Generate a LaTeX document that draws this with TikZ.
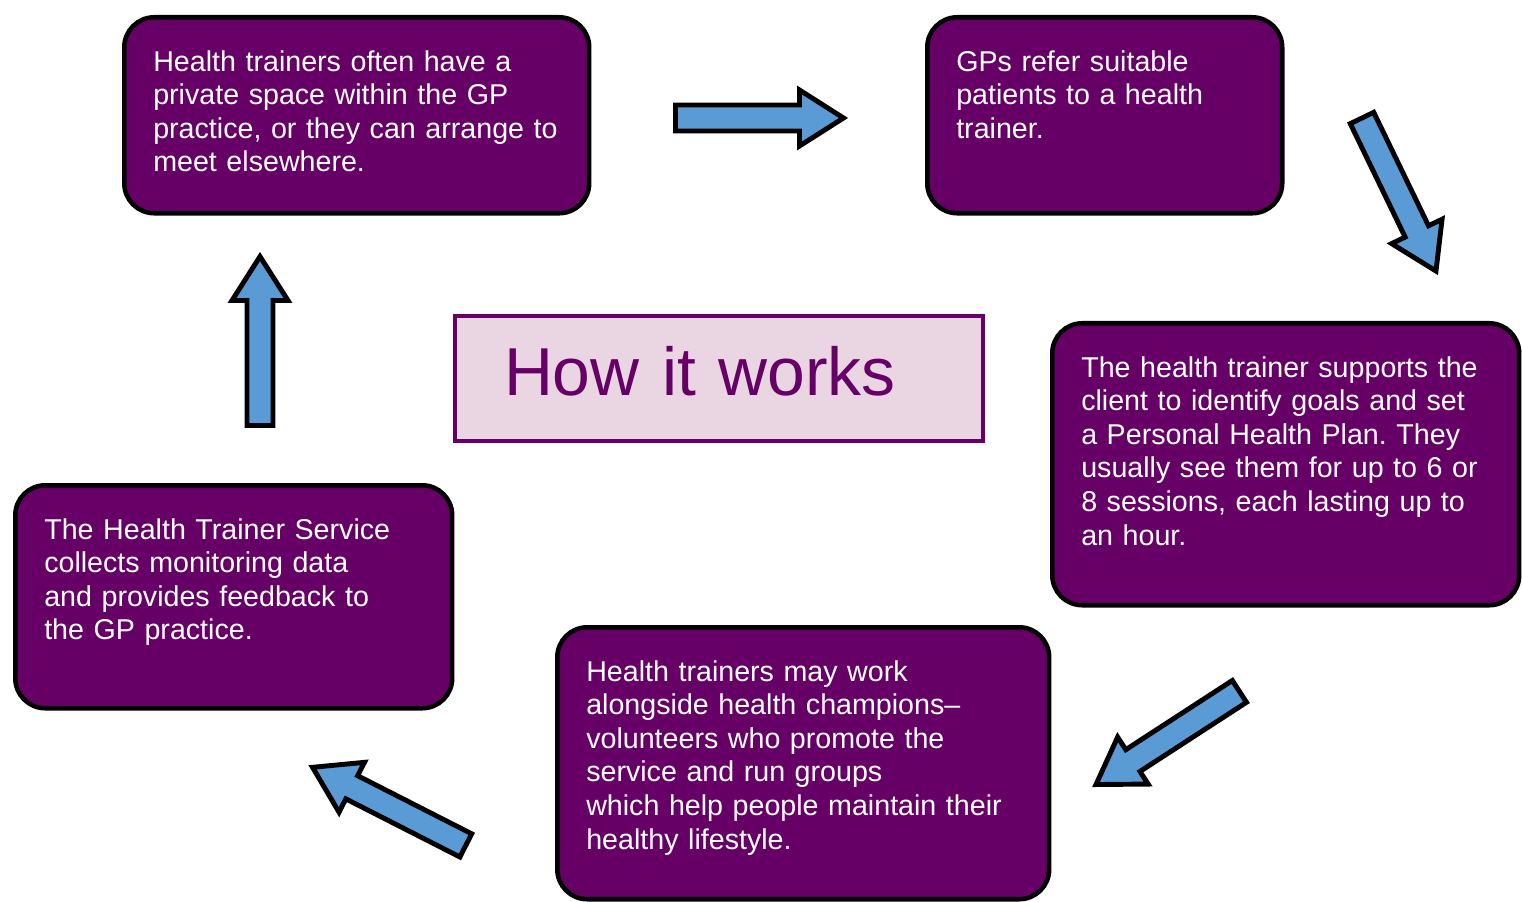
\documentclass[tikz,border=0pt]{standalone}
\usepackage{fontspec}
\setmainfont{Liberation Sans}
\usepackage{xcolor}
\usepackage{tikz}
\usetikzlibrary{arrows,shapes}
\frenchspacing

\begin{document}
\begin{tikzpicture}[x=0.02cm,y=-0.02cm]
    \definecolor{hpurple}{RGB}{102,0,102}
    \definecolor{hpink}{RGB}{234,214,226}
    \definecolor{hblue}{RGB}{91,155,213}

    \tikzstyle{stage}=[rectangle,draw=black,line width=2.6pt,fill=hpurple,rounded corners=0.6cm,text=white,align=left,anchor=north west,inner xsep=0.58cm,inner ysep=0pt,text height=1.08cm,font=\fontsize{16.3}{19.1}\selectfont]  % purple step boxes
    \tikzstyle{title}=[rectangle,draw=hpurple,line width=2.3pt,fill=hpink,text=hpurple,align=left,anchor=north west,inner xsep=0.98cm,inner ysep=0pt,text width=8.6cm,text height=1.58cm,text depth=0.92cm,font=\fontsize{38.6}{46}\selectfont]
    \tikzstyle{blockarrow}=[draw=black,line width=2.8pt,fill=hblue,line join=miter]
    % block arrow, tail at the origin, length #1
    \tikzset{pics/bigarrow/.style={code={
        \draw[blockarrow] (0,-13) -- (#1-44,-13) -- (#1-44,-28) -- (#1,0) -- (#1-44,28) -- (#1-44,13) -- (0,13) -- cycle;}}}

    \useasboundingbox (0,0) rectangle (1522,902);

    % boxes
    \node[stage,text width=8.14cm,text depth=2.84cm](1) at (122,15){Health trainers often have a\\private space within the GP\\practice, or they can arrange to\\meet elsewhere.};
    \node[stage,text width=5.94cm,text depth=2.84cm](2) at (925,15){GPs refer suitable\\patients to a health\\trainer.};
    \node[stage,text width=8.18cm,text depth=4.56cm](3) at (1050,321){The health trainer supports the\\client to identify goals and set\\a Personal Health Plan. They\\usually see them for up to 6 or\\8 sessions, each lasting up to\\an hour.};
    \node[stage,text width=8.68cm,text depth=4.36cm](4) at (555,625){Health trainers may work\\alongside health champions--\\volunteers who promote the\\service and run groups\\which help people maintain their\\healthy lifestyle.};
    \node[stage,text width=7.58cm,text depth=3.38cm](5) at (13,483){The Health Trainer Service\\collects monitoring data\\and provides feedback to\\the GP practice.};
    \node[title](howto) at (453,314){How it works};

    % arrows
    \pic at (675.5,118) {bigarrow=168};
    \pic[rotate=-64.2] at (1362,118) {bigarrow=170};
    \pic[rotate=-147] at (1239.4,691.4) {bigarrow=171};
    \pic[rotate=153] at (465.8,845.4) {bigarrow=172};
    \pic[rotate=90] at (260,425.5) {bigarrow=169};
\end{tikzpicture}
\end{document}
